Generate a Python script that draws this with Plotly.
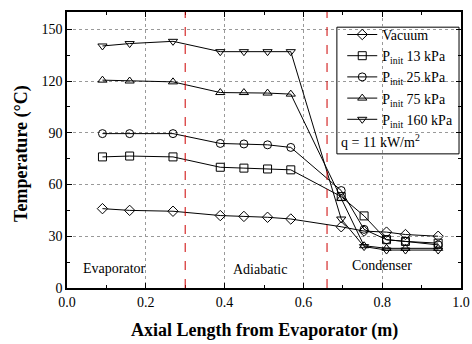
import plotly.graph_objects as go

x_pos = [0.09, 0.159, 0.269, 0.389, 0.449, 0.509, 0.568, 0.696, 0.754, 0.811, 0.859, 0.942]

names = ["Vacuum",
         "P<sub>init</sub> 13 kPa",
         "P<sub>init</sub> 25 kPa",
         "P<sub>init</sub> 75 kPa",
         "P<sub>init</sub> 160 kPa"]

t_vacuum = [46, 45, 44.5, 42, 41.5, 41, 40, 35.5, 33, 32.4, 31, 30]
t_13kpa = [76, 76.5, 76, 70, 69.5, 69, 68.5, 53, 41.8, 28, 27, 26]
t_25kpa = [89.5, 89.5, 89.5, 83.8, 83.5, 83, 81.5, 56.5, 34, 28, 27, 25]
t_75kpa = [120.5, 120, 119.5, 113.3, 113.3, 113, 112.4, 52, 24.5, 23, 23, 23]
t_160kpa = [140.3, 141.7, 143, 137, 137, 137, 137, 40, 24, 22, 22, 22]

series = [t_vacuum, t_13kpa, t_25kpa, t_75kpa, t_160kpa]
symbols = ["diamond-open", "square-open", "circle-open", "triangle-up-open", "triangle-down-open"]

section_bounds = [0.3, 0.66]
section_labels = ["Evaporator", "Adiabatic", "Condenser"]
section_label_x = [0.12, 0.49, 0.80]
section_label_y = [11.5, 11, 13]

x_title = "<b>Axial Length from Evaporator (m)</b>"
y_title = "<b>Temperature (°C)</b>"

FONT = "Liberation Serif, Times New Roman, serif"

fig = go.Figure()
for name, ys, sym in zip(names, series, symbols):
    fig.add_trace(go.Scatter(
        x=x_pos, y=ys, name=name, mode="lines+markers",
        line=dict(color="black", width=1),
        marker=dict(symbol=sym, size=8, color="black", line=dict(width=1, color="black")),
    ))

for b in section_bounds:
    fig.add_shape(type="line", x0=b, x1=b, xref="x", y0=0, y1=1, yref="paper",
                  line=dict(color="#cc0000", width=1, dash="dash"))

for lbl, lx, ly in zip(section_labels, section_label_x, section_label_y):
    fig.add_annotation(x=lx, y=ly, text=lbl, showarrow=False,
                       font=dict(family=FONT, size=14, color="black"))

# axis titles
fig.add_annotation(xref="paper", yref="paper", x=0.5, y=-0.154, text=x_title, showarrow=False,
                   xanchor="center", yanchor="middle", font=dict(family=FONT, size=18, color="black"))
fig.add_annotation(xref="paper", yref="paper", x=-0.114, y=0.486, text=y_title, showarrow=False,
                   textangle=-90, xanchor="center", yanchor="middle",
                   font=dict(family=FONT, size=18, color="black"))

# legend box
fig.add_shape(type="rect", xref="paper", yref="paper", x0=0.685, x1=0.995, y0=0.486, y1=0.945,
              line=dict(color="black", width=1), fillcolor="white", layer="below")
fig.add_annotation(xref="paper", yref="paper", x=0.69, y=0.493, xanchor="left", yanchor="bottom",
                   text="q = 11 kW/m<sup>2</sup>", showarrow=False,
                   font=dict(family=FONT, size=14, color="black"))

fig.update_layout(
    template="none",
    width=472, height=344,
    margin=dict(l=67, r=11, t=12, b=56),
    paper_bgcolor="white", plot_bgcolor="white",
    font=dict(family=FONT, size=14, color="black"),
    showlegend=True,
    legend=dict(x=0.993, y=0.975, xanchor="right", yanchor="top",
                bgcolor="rgba(0,0,0,0)", borderwidth=0,
                font=dict(family=FONT, size=14), itemwidth=30,
                tracegroupgap=0),
    xaxis=dict(range=[0, 1.0], dtick=0.2, tickformat=".1f", automargin=False,
               showgrid=True, gridcolor="#999999", griddash="dot", gridwidth=1,
               showline=True, linecolor="black", linewidth=1.5, mirror="ticks",
               ticks="inside", ticklen=5, tickcolor="black",
               minor=dict(dtick=0.1, ticks="inside", ticklen=3, tickcolor="black", showgrid=False),
               zeroline=False),
    yaxis=dict(range=[0, 160], tickvals=[0, 30, 60, 90, 120, 150], automargin=False,
               showgrid=True, gridcolor="#999999", griddash="dot", gridwidth=1,
               showline=True, linecolor="black", linewidth=1.5, mirror="ticks",
               ticks="inside", ticklen=5, tickcolor="black",
               minor=dict(tickvals=[15, 45, 75, 105, 135], ticks="inside", ticklen=3, tickcolor="black", showgrid=False),
               zeroline=False),
)

fig.write_html("out.html")
